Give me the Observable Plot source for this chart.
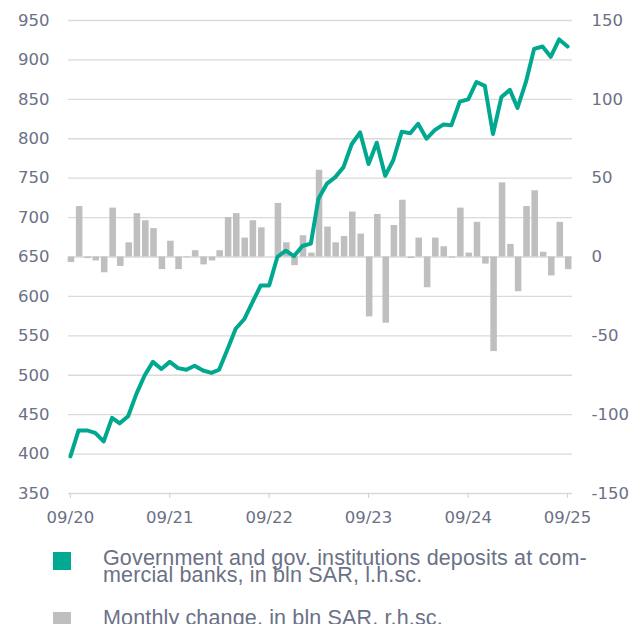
<!DOCTYPE html>
<html><head><meta charset="utf-8">
<script src="https://cdn.jsdelivr.net/npm/d3@7"></script>
<script src="https://cdn.jsdelivr.net/npm/@observablehq/plot@0.6"></script>
<style>
body{margin:0;background:#fff;width:643px;height:624px;overflow:hidden;position:relative;font-family:"Liberation Sans Narrow","Liberation Sans",sans-serif;}
.sw{position:absolute;left:53px;width:18px;height:18px;}
.lt{position:absolute;left:103px;font-size:21.5px;line-height:17px;letter-spacing:0.15px;color:#6b7186;white-space:nowrap;}
</style></head><body>
<div id="chart"></div>
<div class="sw" style="top:552px;background:#00a991"></div>
<div class="lt" style="top:550px">Government and gov. institutions deposits at com-<br>mercial banks, in bln SAR, l.h.sc.</div>
<div class="sw" style="top:612px;background:#bfbfbf"></div>
<div class="lt" style="top:610px">Monthly change, in bln SAR, r.h.sc.</div>
<script>
const months = [
 "2020-09","2020-10","2020-11","2020-12","2021-01","2021-02","2021-03","2021-04","2021-05","2021-06","2021-07","2021-08",
 "2021-09","2021-10","2021-11","2021-12","2022-01","2022-02","2022-03","2022-04","2022-05","2022-06","2022-07","2022-08",
 "2022-09","2022-10","2022-11","2022-12","2023-01","2023-02","2023-03","2023-04","2023-05","2023-06","2023-07","2023-08",
 "2023-09","2023-10","2023-11","2023-12","2024-01","2024-02","2024-03","2024-04","2024-05","2024-06","2024-07","2024-08",
 "2024-09","2024-10","2024-11","2024-12","2025-01","2025-02","2025-03","2025-04","2025-05","2025-06","2025-07","2025-08",
 "2025-09"];
const deposits = [
 397,430,430,427,416,446,439,448,476,500,517,508,
 517,509,507,512,506,503,507,533,559,571,592,614,
 614,650,658,651,664,667,724,743,751,764,793,808,
 768,795,753,773,809,807,819,800,811,818,817,847,
 850,872,867,806,853,862,839,872,914,917,904,926,
 917];
const change = [
 -3.5,32,-1,-2.5,-10,31,-6,9,27.5,23,18,-8,
 10,-8,-0.5,4,-5,-2.5,4,25,27.5,12,23,18.5,
 0,34,9,-5.5,13.5,2.5,55,19,9,13,28.5,14.5,
 -38,27,-42,20,36,-1,12,-19.5,12,6.5,-0.7,31,
 2.5,22,-4.5,-60,47,8,-22,32,42,3,-12,22,
 -8];
const leftTicks = [350,400,450,500,550,600,650,700,750,800,850,900,950];
const rightTicks = [-150,-100,-50,0,50,100,150];
const yearTicks = ["2020-09","2021-09","2022-09","2023-09","2024-09","2025-09"];

const toDate = m => new Date(m + "-01T00:00:00Z");
const data = months.map((m, i) => ({date: toDate(m), deposits: deposits[i], change: change[i]}));
// r.h.sc. 0 aligns with l.h.sc. 650; 150 with 950
const rightToLeft = v => 650 + 2 * v;

const chart = Plot.plot({
  width: 643, height: 535,
  marginLeft: 68, marginRight: 71, marginTop: 20, marginBottom: 42,
  style: {fontFamily: "DejaVu Sans", fontSize: "16.5px", color: "#6b7186", background: "#fff"},
  x: {type: "utc", domain: [new Date("2020-08-25T00:00:00Z"), new Date("2025-09-19T00:00:00Z")], label: null},
  y: {domain: [350, 950], label: null},
  marks: [
    Plot.gridY(leftTicks, {stroke: "#dadada", strokeOpacity: 1, strokeWidth: 1.3}),
    Plot.rect(data, {
      x1: d => d3.utcDay.offset(d.date, -8),
      x2: d => d3.utcDay.offset(d.date, 16),
      y1: () => rightToLeft(0),
      y2: d => rightToLeft(d.change),
      fill: "#bfbfbf"
    }),
    Plot.line(data, {x: "date", y: "deposits", stroke: "#00a88f", strokeWidth: 4, strokeLinejoin: "round"}),
    Plot.axisY(leftTicks, {anchor: "left", tickSize: 0, tickPadding: 19, tickFormat: d => String(d), label: null}),
    Plot.axisY(rightTicks.map(rightToLeft), {anchor: "right", tickSize: 0, tickPadding: 19, tickFormat: d => String((d - 650) / 2), label: null}),
    Plot.axisX(yearTicks.map(toDate), {tickSize: 5, tickPadding: 13, tickFormat: d3.utcFormat("%m/%y"), stroke: "#cfcfcf", label: null})
  ]
});
document.getElementById("chart").append(chart);
</script>
</body></html>
